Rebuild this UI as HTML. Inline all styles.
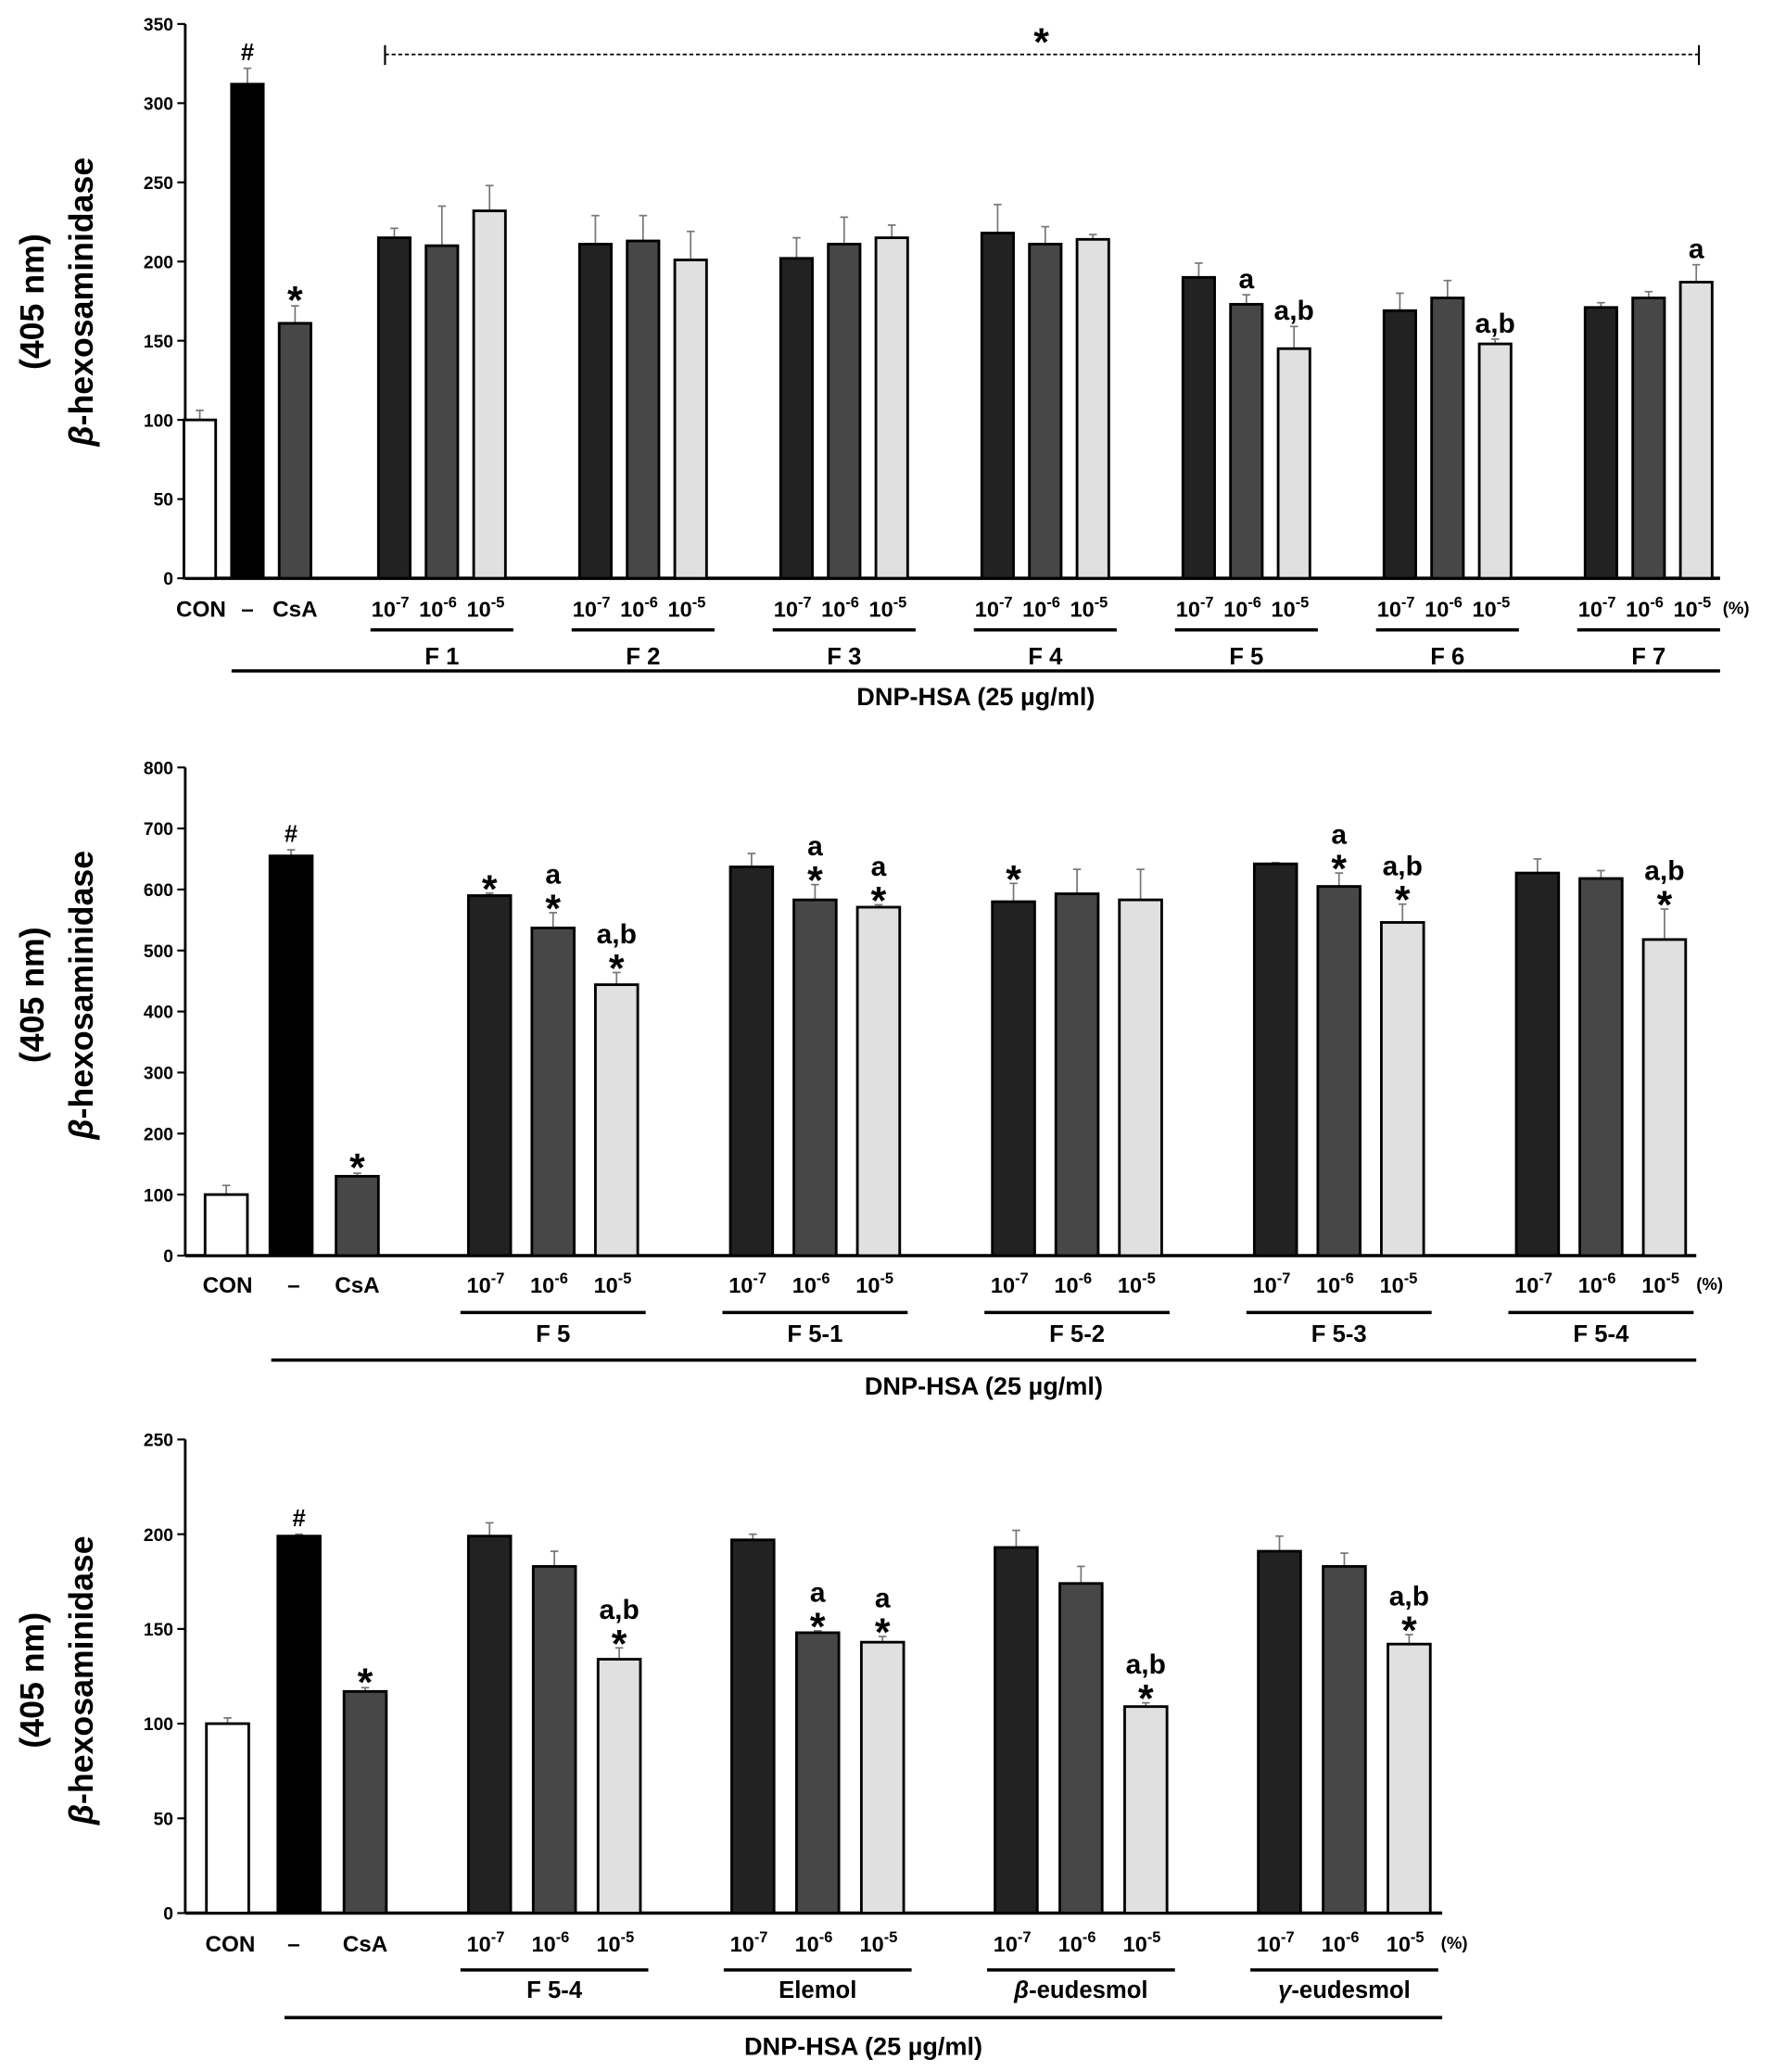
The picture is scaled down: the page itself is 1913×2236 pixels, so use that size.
<!DOCTYPE html>
<html><head><meta charset="utf-8"><style>
html,body{margin:0;padding:0;background:#fff}
svg{display:block}
text{font-family:"Liberation Sans",sans-serif;font-weight:bold;fill:#000}
</style></head><body>
<svg id="fig" width="1913" height="2236" viewBox="0 0 1340 1566" xmlns="http://www.w3.org/2000/svg"></svg>
<script>
// ---- Panel 1 data ----
const p1Ticks = [0,50,100,150,200,250,300,350];
const p1Ctrl = [100,312,161];
const p1CtrlErr = [6,10,11];
const p1Groups = ["F 1","F 2","F 3","F 4","F 5","F 6","F 7"];
const p1Vals = [[215,210,232],[211,213,201],[202,211,215],[218,211,214],[190,173,145],[169,177,148],[171,177,187]];
const p1Errs = [[6,25,16],[18,16,18],[13,17,8],[18,11,3],[9,6,14],[11,11,3],[3,4,11]];
const p1Ann = [[["",""],["",""],["",""]],[["",""],["",""],["",""]],[["",""],["",""],["",""]],[["",""],["",""],["",""]],[["",""],["a",""],["a,b",""]],[["",""],["",""],["a,b",""]],[["",""],["",""],["a",""]]];
// ---- Panel 2 data ----
const p2Ticks = [0,100,200,300,400,500,600,700,800];
const p2Ctrl = [100,655,130];
const p2CtrlErr = [15,10,5];
const p2Groups = ["F 5","F 5-1","F 5-2","F 5-3","F 5-4"];
const p2Vals = [[590,537,444],[637,583,571],[580,593,583],[642,605,546],[627,618,518]];
const p2Errs = [[4,25,20],[22,25,4],[30,40,50],[2,22,30],[23,13,50]];
const p2Ann = [[["","*"],["a","*"],["a,b","*"]],[["",""],["a","*"],["a","*"]],[["","*"],["",""],["",""]],[["",""],["a","*"],["a,b","*"]],[["",""],["",""],["a,b","*"]]];
// ---- Panel 3 data ----
const p3Ticks = [0,50,100,150,200,250];
const p3Ctrl = [100,199,117];
const p3CtrlErr = [3,1,2];
const p3Groups = ["F 5-4","Elemol","β-eudesmol","γ-eudesmol"];
const p3Vals = [[199,183,134],[197,148,143],[193,174,109],[191,183,142]];
const p3Errs = [[7,8,6],[3,1,3],[9,9,2],[8,7,5]];
const p3Ann = [[["",""],["",""],["a,b","*"]],[["",""],["a","*"],["a","*"]],[["",""],["",""],["a,b","*"]],[["",""],["",""],["a,b","*"]]];

const svg = document.getElementById('fig');
const NS = 'http://www.w3.org/2000/svg';
function mk(tag, attrs, txt){const e=document.createElementNS(NS,tag);for(const k in attrs)e.setAttribute(k,attrs[k]);if(txt!==undefined)e.textContent=txt;svg.appendChild(e);return e;}
const fills=["#222","#474747","#e0e0e0"];
const ctrlFills=["#fff","#000","#474747"];

function panel(cfg){
  const {y0,yTop,max,ticks,ctrl,ctrlErr,ctrlX,groups,vals,errs,ann,gx,gsp,bw,bsp,xEnd,lblY,ulY,glY,dnpY,dnpX0,dnpTxtY,ctrlLblX,id,ylY}=cfg;
  const ys=v=>y0-(v/max)*(y0-yTop);
  const yl=mk('text',{x:0,y:0,'font-size':25,'text-anchor':'middle',transform:`translate(33,${ylY}) rotate(-90)`},'(405 nm)');
  
  
  const yl2=mk('text',{x:0,y:0,'font-size':25,'text-anchor':'middle',transform:`translate(70,${ylY}) rotate(-90)`});
  
  
  const b=document.createElementNS(NS,'tspan');b.setAttribute('font-style','italic');b.textContent='β';yl2.appendChild(b);
  yl2.appendChild(document.createTextNode('-hexosaminidase'));
  const ax=mk('line',{x1:140,y1:yTop,x2:140,y2:y0,stroke:'#000','stroke-width':2});
  
  
  const bx=mk('line',{x1:140,y1:y0,x2:xEnd,y2:y0,stroke:'#000','stroke-width':2.5});
  
  
  ticks.forEach(t=>{
    const l=mk('line',{x1:134,y1:ys(t),x2:140,y2:ys(t),stroke:'#000','stroke-width':1.5});
    
    
    const tx=mk('text',{x:131,y:ys(t)+5,'font-size':13.5,'text-anchor':'end'},t);
    
    
  });
  function bar(cx,v,e,fill,name,an){
    const err=mk('line',{x1:cx,y1:ys(v),x2:cx,y2:ys(v+e),stroke:'#777','stroke-width':1.2});
    
    
    const cap=mk('line',{x1:cx-3,y1:ys(v+e),x2:cx+3,y2:ys(v+e),stroke:'#777','stroke-width':1.2});
    
    
    const r=mk('rect',{x:cx-bw/2,y:ys(v),width:bw,height:y0-ys(v),fill:fill,stroke:'#000','stroke-width':2});
    
    
    let ty=ys(v+e)-5;
    if(an&&an[1]){const s=mk('text',{x:cx,y:ty+12,'font-size':30,'text-anchor':'middle'},'*');ty-=17;}
    if(an&&an[0]){const s=mk('text',{x:cx,y:ty,'font-size':21,'text-anchor':'middle'},an[0]);}
  }
  const cn=['con','dnp-only','csa'];
  ctrl.forEach((v,i)=>bar(ctrlX[i],v,ctrlErr[i],ctrlFills[i],id+'-bar-'+cn[i],null));
  ['CON','–','CsA'].forEach((t,i)=>{const tx=mk('text',{x:ctrlLblX[i],y:lblY+6,'font-size':17,'text-anchor':'middle'},t);});
  const h=mk('text',{x:ctrlX[1],y:ys(ctrl[1]+ctrlErr[1])-6,'font-size':18,'text-anchor':'middle'},'#');
  
  
  const st=mk('text',{x:ctrlX[2],y:ys(ctrl[2]+ctrlErr[2])+6,'font-size':30,'text-anchor':'middle'},'*');
  
  
  const ex=['-7','-6','-5'];
  groups.forEach((g,gi)=>{
    const c0=gx+gi*gsp;
    vals[gi].forEach((v,j)=>{
      const cx=c0+j*bsp;
      bar(cx,v,errs[gi][j],fills[j],id+'-bar-g'+(gi+1)+'-'+(j+1),ann[gi][j]);
      const t=mk('text',{x:cx-3,y:lblY+6,'font-size':16.5,'text-anchor':'middle'},'10');
      
      
      const sp=document.createElementNS(NS,'tspan');sp.setAttribute('dy','-7');sp.setAttribute('font-size','11.5');sp.textContent=ex[j];t.appendChild(sp);
    });
    const u=mk('line',{x1:c0-bw/2-6,y1:ulY,x2:c0+2*bsp+bw/2+6,y2:ulY,stroke:'#000','stroke-width':2.5});
    
    
    const gl=mk('text',{x:c0+bsp,y:glY+6,'font-size':18,'text-anchor':'middle'});
    
    
    if(g[1]==='-'){const it=document.createElementNS(NS,'tspan');it.setAttribute('font-style','italic');it.textContent=g[0];gl.appendChild(it);gl.appendChild(document.createTextNode(g.slice(1)));}
    else gl.textContent=g;
  });
  const lastX=gx+(groups.length-1)*gsp+2*bsp+bw/2+6;
  const pc=mk('text',{x:lastX+2,y:lblY+4,'font-size':13,'text-anchor':'start'},'(%)');
  
  
  const dl=mk('line',{x1:dnpX0,y1:dnpY,x2:xEnd,y2:dnpY,stroke:'#000','stroke-width':2.5});
  
  
  const dt=mk('text',{x:(dnpX0+xEnd)/2,y:dnpTxtY+7,'font-size':19,'text-anchor':'middle'},'DNP-HSA (25 µg/ml)');
  
  
  return ys;
}
panel({id:'panel1',y0:437,yTop:18,max:350,ticks:p1Ticks,ctrl:p1Ctrl,ctrlErr:p1CtrlErr,ctrlX:[151,187,223],ctrlLblX:[152,187,223],groups:p1Groups,vals:p1Vals,errs:p1Errs,ann:p1Ann,gx:298,gsp:152,bw:24,bsp:36,xEnd:1300,lblY:460,ulY:476,glY:496,dnpY:507,dnpX0:175,dnpTxtY:526,ylY:228});
panel({id:'panel2',y0:949,yTop:580,max:800,ticks:p2Ticks,ctrl:p2Ctrl,ctrlErr:p2CtrlErr,ctrlX:[171,220,270],ctrlLblX:[172,222,270],groups:p2Groups,vals:p2Vals,errs:p2Errs,ann:p2Ann,gx:370,gsp:198,bw:32,bsp:48,xEnd:1282,lblY:971,ulY:992,glY:1008,dnpY:1028,dnpX0:205,dnpTxtY:1047,ylY:752});
panel({id:'panel3',y0:1446,yTop:1088,max:250,ticks:p3Ticks,ctrl:p3Ctrl,ctrlErr:p3CtrlErr,ctrlX:[172,226,276],ctrlLblX:[174,222,276],groups:p3Groups,vals:p3Vals,errs:p3Errs,ann:p3Ann,gx:370,gsp:199,bw:32,bsp:49,xEnd:1090,lblY:1469,ulY:1489,glY:1504,dnpY:1525,dnpX0:215,dnpTxtY:1546,ylY:1270});
const dsh=mk('line',{x1:291,y1:41,x2:1284,y2:41,stroke:'#000','stroke-width':1.2,'stroke-dasharray':'3,2'});


[291,1284].forEach(x=>{const t=mk('line',{x1:x,y1:34,x2:x,y2:49,stroke:'#000','stroke-width':1.5});});
const bs=mk('text',{x:787,y:42,'font-size':30,'text-anchor':'middle'},'*');


</script>
</body></html>
